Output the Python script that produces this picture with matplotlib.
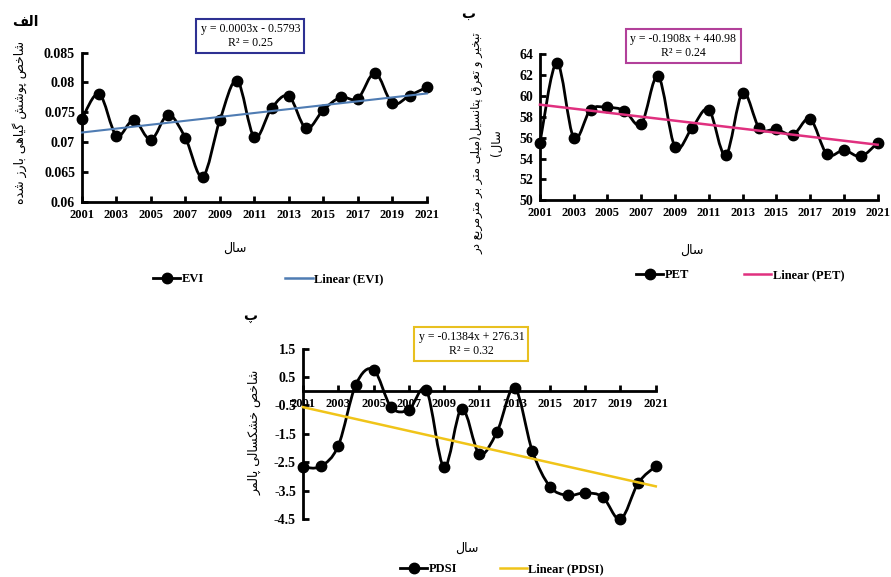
import numpy as np
import matplotlib
matplotlib.use("Agg")
import matplotlib.pyplot as plt
from matplotlib.path import Path
from matplotlib.patches import PathPatch
from matplotlib.lines import Line2D

# data
years = list(range(2001, 2022))
evi = [0.0739, 0.0781, 0.0711, 0.0737, 0.0704, 0.0746, 0.0707, 0.0642, 0.0737, 0.0803, 0.0708,
       0.0757, 0.0777, 0.0723, 0.0754, 0.0775, 0.0773, 0.0816, 0.0765, 0.0778, 0.0792]
pet = [55.5, 63.2, 56.0, 58.7, 58.9, 58.6, 57.3, 61.9, 55.1, 56.9, 58.7,
       54.3, 60.3, 56.9, 56.8, 56.3, 57.8, 54.4, 54.8, 54.2, 55.5]
pdsi = [-2.67, -2.64, -1.92, 0.23, 0.76, -0.56, -0.65, 0.03, -2.67, -0.61, -2.2,
        -1.43, 0.12, -2.1, -3.35, -3.66, -3.57, -3.72, -4.5, -3.23, -2.63]

year_ticks = list(range(2001, 2022, 2))
evi_ticks = [0.06, 0.065, 0.07, 0.075, 0.08, 0.085]
evi_labels = ["0.06", "0.065", "0.07", "0.075", "0.08", "0.085"]
pet_ticks = [50, 52, 54, 56, 58, 60, 62, 64]
pdsi_ticks = [1.5, 0.5, -0.5, -1.5, -2.5, -3.5, -4.5]
pdsi_labels = ["1.5", "0.5", "-0.5", "-1.5", "-2.5", "-3.5", "-4.5"]

eq_evi = "y = 0.0003x - 0.5793\nR² = 0.25"
eq_pet = "y = -0.1908x + 440.98\nR² = 0.24"
eq_pdsi = "y = -0.1384x + 276.31\nR² = 0.32"

# --- tiny persian shaper (matplotlib does no arabic shaping) ---
FORMS = {
    "ا": ("\uFE8D", "\uFE8E", None, None),
    "ب": ("\uFE8F", "\uFE90", "\uFE91", "\uFE92"),
    "پ": ("\uFB56", "\uFB57", "\uFB58", "\uFB59"),
    "ت": ("\uFE95", "\uFE96", "\uFE97", "\uFE98"),
    "ح": ("\uFEA1", "\uFEA2", "\uFEA3", "\uFEA4"),
    "خ": ("\uFEA5", "\uFEA6", "\uFEA7", "\uFEA8"),
    "د": ("\uFEA9", "\uFEAA", None, None),
    "ر": ("\uFEAD", "\uFEAE", None, None),
    "ز": ("\uFEAF", "\uFEB0", None, None),
    "س": ("\uFEB1", "\uFEB2", "\uFEB3", "\uFEB4"),
    "ش": ("\uFEB5", "\uFEB6", "\uFEB7", "\uFEB8"),
    "ص": ("\uFEB9", "\uFEBA", "\uFEBB", "\uFEBC"),
    "ع": ("\uFEC9", "\uFECA", "\uFECB", "\uFECC"),
    "ف": ("\uFED1", "\uFED2", "\uFED3", "\uFED4"),
    "ق": ("\uFED5", "\uFED6", "\uFED7", "\uFED8"),
    "ک": ("\uFB8E", "\uFB8F", "\uFB90", "\uFB91"),
    "گ": ("\uFB92", "\uFB93", "\uFB94", "\uFB95"),
    "ل": ("\uFEDD", "\uFEDE", "\uFEDF", "\uFEE0"),
    "م": ("\uFEE1", "\uFEE2", "\uFEE3", "\uFEE4"),
    "ن": ("\uFEE5", "\uFEE6", "\uFEE7", "\uFEE8"),
    "و": ("\uFEED", "\uFEEE", None, None),
    "ه": ("\uFEE9", "\uFEEA", "\uFEEB", "\uFEEC"),
    "ی": ("\uFBFC", "\uFBFD", "\uFBFE", "\uFBFF"),
}


def fa(text):
    lines = []
    for line in text.split("\n"):
        out = []
        for i, c in enumerate(line):
            if c not in FORMS:
                out.append(c)
                continue
            iso, fin, ini, med = FORMS[c]
            prev = line[i - 1] if i > 0 else None
            nxt = line[i + 1] if i + 1 < len(line) else None
            jp = prev in FORMS and FORMS[prev][2] is not None
            jn = ini is not None and nxt in FORMS
            if jp and jn:
                out.append(med)
            elif jp:
                out.append(fin)
            elif jn:
                out.append(ini)
            else:
                out.append(iso)
        vis = "".join(out)[::-1]
        lines.append(vis.translate(str.maketrans("()", ")(")))
    return "\n".join(lines)


def smooth_path(x, y):
    # excel-like smoothed line (bezier through the points)
    x = np.asarray(x, float)
    y = np.asarray(y, float)
    n = len(x)
    verts = [(x[0], y[0])]
    codes = [Path.MOVETO]
    for i in range(n - 1):
        xa, ya = (x[i - 1], y[i - 1]) if i > 0 else (x[i], y[i])
        xb, yb = (x[i + 2], y[i + 2]) if i + 2 < n else (x[i + 1], y[i + 1])
        c1 = (x[i] + (x[i + 1] - xa) / 6, y[i] + (y[i + 1] - ya) / 6)
        c2 = (x[i + 1] - (xb - x[i]) / 6, y[i + 1] - (yb - y[i]) / 6)
        verts += [c1, c2, (x[i + 1], y[i + 1])]
        codes += [Path.CURVE4] * 3
    return Path(verts, codes)


SERIF = "Liberation Serif"
FA = ["DejaVu Sans"]

fig = plt.figure(figsize=(8.91, 5.77), dpi=100)


def panel(rect, values, trend_color, trend_lw, yticks, ylabels, ylim, zero_axis=False):
    ax = fig.add_axes(rect)
    ax.add_patch(PathPatch(smooth_path(years, values), facecolor="none",
                           edgecolor="black", lw=2, zorder=2, clip_on=False))
    ax.plot(years, values, "o", color="black", ms=7.5, zorder=3, clip_on=False)
    k, b = np.polyfit(years, values, 1)
    ax.plot([years[0], years[-1]], [k * years[0] + b, k * years[-1] + b],
            color=trend_color, lw=trend_lw, zorder=4, clip_on=False)
    for s in ["top", "right"]:
        ax.spines[s].set_visible(False)
    for s in ["left", "bottom"]:
        ax.spines[s].set_linewidth(2)
    if zero_axis:
        ax.spines["bottom"].set_position(("data", 0))
    ax.set_xlim(2001, 2021)
    ax.set_ylim(*ylim)
    ax.set_xticks(year_ticks)
    ax.set_xticklabels([str(t) for t in year_ticks])
    ax.set_yticks(yticks)
    ax.set_yticklabels(ylabels)
    ax.tick_params(direction="in", length=4, width=2, pad=5)
    for lab in ax.get_xticklabels():
        lab.set_fontfamily(SERIF)
        lab.set_fontweight("bold")
        lab.set_fontsize(9)
    for lab in ax.get_yticklabels():
        lab.set_fontfamily(SERIF)
        lab.set_fontweight("bold")
        lab.set_fontsize(10)
    return ax


ax1 = panel([0.092, 0.650, 0.387, 0.259], evi, "#4f7cb3", 1.5,
            evi_ticks, evi_labels, (0.06, 0.085))
ax2 = panel([0.606, 0.653, 0.379, 0.253], pet, "#e0307f", 1.8,
            pet_ticks, [str(t) for t in pet_ticks], (50, 64))
ax3 = panel([0.340, 0.100, 0.396, 0.296], pdsi, "#f0c419", 1.8,
            pdsi_ticks, pdsi_labels, (-4.5, 1.5), zero_axis=True)

# equation boxes
for (x, y, txt, ec) in [(0.281, 0.938, eq_evi, "#2e3192"),
                        (0.767, 0.920, eq_pet, "#b2409a"),
                        (0.529, 0.404, eq_pdsi, "#e8c020")]:
    fig.text(x, y, txt, ha="center", va="center", multialignment="center",
             family=SERIF, fontsize=8.5,
             bbox=dict(boxstyle="square,pad=0.35", fc="white", ec=ec, lw=1.5))

# persian labels
fig.text(0.022, 1 - 122 / 577, fa("شاخص پوشش گیاهی بارز شده"), rotation=90,
         ha="center", va="center", family=FA, fontsize=9)
fig.text(0.546, 1 - 143 / 577,
         fa("تبخیر و تعرق پتانسیل(میلی متر بر مترمربع در\nسال)"), rotation=90,
         ha="center", va="center", multialignment="center", family=FA, fontsize=8.5,
         linespacing=1.6)
fig.text(0.286, 1 - 432 / 577, fa("شاخص خشکسالی پالمر"), rotation=90,
         ha="center", va="center", family=FA, fontsize=9)

for (x, y) in [(235, 248), (692, 250), (467, 548)]:
    fig.text(x / 891, 1 - y / 577, fa("سال"), ha="center", va="center",
             family=FA, fontsize=9)

fig.text(25 / 891, 1 - 22 / 577, fa("الف"), ha="center", va="center",
         family=FA, fontsize=10, fontweight="bold")
fig.text(468 / 891, 1 - 14 / 577, fa("ب"), ha="center", va="center",
         family=FA, fontsize=10, fontweight="bold")
fig.text(250 / 891, 1 - 316 / 577, fa("پ"), ha="center", va="center",
         family=FA, fontsize=10, fontweight="bold")

# legends
for (name, color, cx, cy, gap) in [("EVI", "#4f7cb3", 268, 279, 6.5),
                                   ("PET", "#e0307f", 740, 275, 4.4),
                                   ("PDSI", "#f0c419", 502, 569, 3.4)]:
    handles = [Line2D([], [], color="black", lw=2, marker="o", ms=7.5),
               Line2D([], [], color=color, lw=1.8)]
    fig.legend(handles, [name, "Linear (%s)" % name], loc="center",
               bbox_to_anchor=(cx / 891, 1 - cy / 577), ncol=2, frameon=False,
               handlelength=2.2, handletextpad=0.1, columnspacing=gap,
               borderpad=0.1, prop={"family": SERIF, "weight": "bold", "size": 9})

fig.savefig("out.png", dpi=100)
